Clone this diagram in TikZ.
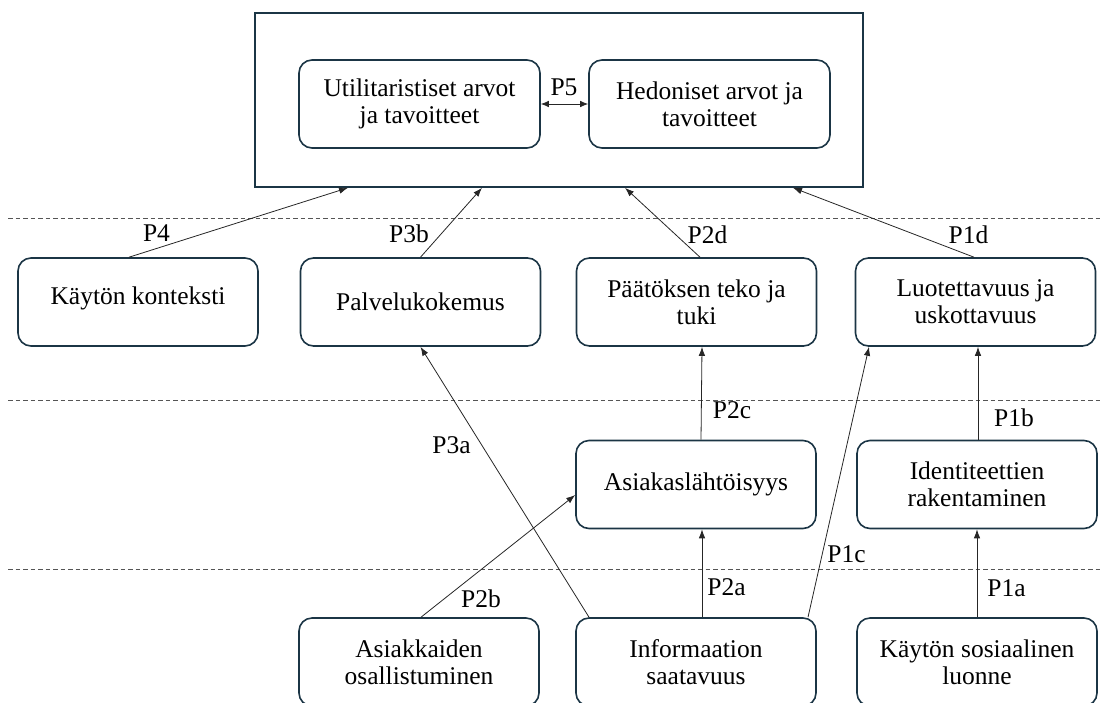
\documentclass[tikz,border=0pt]{standalone}
\usepackage{fontspec}
\setmainfont{Liberation Serif}
\usetikzlibrary{arrows.meta}
\definecolor{boxc}{HTML}{1B3545}
\definecolor{dashc}{HTML}{555555}
\begin{document}
\begin{tikzpicture}[x=1pt,y=-1pt,
  font=\fontsize{25.5}{27}\selectfont,
  boxst/.style={draw=boxc, line width=1.6pt, rounded corners=13pt, minimum width=240pt, minimum height=88pt, align=center, inner sep=0pt},
  outerst/.style={draw=boxc, line width=1.6pt, minimum width=608pt, minimum height=174pt, inner sep=0pt},
  conn/.style={line width=0.8pt, draw=black!85, -{Latex[length=9pt,width=6.5pt]}},
  sep/.style={draw=dashc, line width=0.9pt, dash pattern=on 4.5pt off 3pt},
  lab/.style={anchor=base, inner sep=0pt}]
\useasboundingbox (0,0) rectangle (1102,702);
% separators
\coordinate (s1a) at (8,218); \coordinate (s1b) at (1102,218);
\coordinate (s2a) at (8,400); \coordinate (s2b) at (1102,400);
\coordinate (s3a) at (8,569); \coordinate (s3b) at (1102,569);
\draw[sep] (s1a) -- (s1b);
\draw[sep] (s2a) -- (s2b);
\draw[sep] (s3a) -- (s3b);
% outer box
\node[outerst] (top) at (559,100) {};
\node[boxst, minimum width=241pt] (util) at (419.5,104) {Utilitaristiset arvot\\ja tavoitteet};
\node[boxst, minimum width=241pt] (hed) at (709.5,104) {Hedoniset arvot ja\\tavoitteet};
% row 2
\node[boxst] (ktx) at (138,302) {\raisebox{12pt}{Käytön konteksti}};
\node[boxst] (pal) at (420.5,302) {Palvelukokemus};
\node[boxst] (paa) at (696.5,302) {Päätöksen teko ja\\tuki};
\node[boxst] (luo) at (975.5,302) {Luotettavuus ja\\uskottavuus};
% row 3
\node[boxst] (asl) at (696,484.5) {Asiakaslähtöisyys};
\node[boxst] (ide) at (977,484.5) {Identiteettien\\rakentaminen};
% row 4
\node[boxst] (aso) at (419,662) {Asiakkaiden\\osallistuminen};
\node[boxst] (inf) at (696,662) {Informaation\\saatavuus};
\node[boxst] (kso) at (977,662) {Käytön sosiaalinen\\luonne};
% connectors
\draw[line width=0.8pt, draw=black!85, {Latex[length=8pt,width=6.5pt]}-{Latex[length=8pt,width=6.5pt]}] (util.east) -- (hed.west);
\draw[conn] ([xshift=-9pt]ktx.north) -- ([xshift=-211pt]top.south);
\draw[conn] (pal.north) -- ([xshift=-77pt]top.south);
\draw[conn] ([xshift=3.5pt]paa.north) -- ([xshift=66pt]top.south);
\draw[conn] ([xshift=-1.5pt]luo.north) -- ([xshift=234pt]top.south);
\draw[conn] ([xshift=5pt]asl.north) -- ([xshift=5.5pt]paa.south);
\draw[conn] ([xshift=-107pt]inf.north) -- (pal.south);
\draw[conn] ([xshift=2pt]aso.north) -- ([yshift=-10.5pt]asl.west);
\draw[conn] ([xshift=112pt]inf.north) -- ([xshift=-106.5pt]luo.south);
\draw[conn] ([xshift=6pt]inf.north) -- ([xshift=6pt]asl.south);
\draw[conn] ([xshift=1pt]ide.north) -- ([xshift=2.5pt]luo.south);
\draw[conn] (kso.north) -- (ide.south);
% labels
\node[lab] (l5) at (564,95) {P5};
\node[lab] (l4) at (156.5,241) {P4};
\node[lab] (l3b) at (409,242) {P3b};
\node[lab] (l2d) at (707.5,243) {P2d};
\node[lab] (l1d) at (968.5,243) {P1d};
\node[lab] (l2c) at (732,418) {P2c};
\node[lab] (l3a) at (451.5,453) {P3a};
\node[lab] (l2b) at (481,607) {P2b};
\node[lab] (l2a) at (726.5,595) {P2a};
\node[lab] (l1c) at (846.5,562) {P1c};
\node[lab] (l1b) at (1014,426) {P1b};
\node[lab] (l1a) at (1006.5,596) {P1a};
\end{tikzpicture}
\end{document}
